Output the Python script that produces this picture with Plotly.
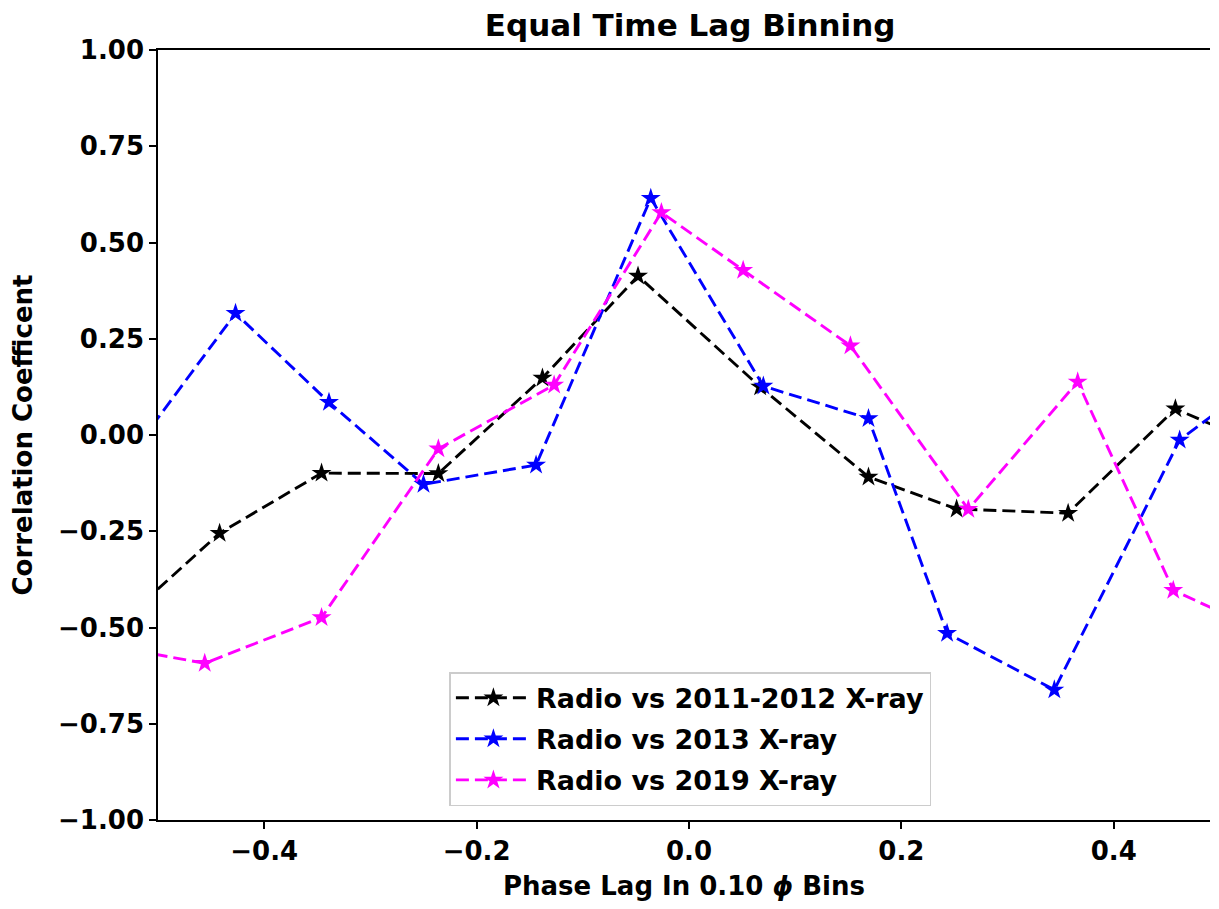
import plotly.graph_objects as go

# Data (points beyond the visible x-range keep the lines running to the edges)
x_2011 = [-0.54, -0.442, -0.346, -0.236, -0.138, -0.048, 0.067, 0.169, 0.252, 0.357, 0.458, 0.557]
y_2011 = [-0.50, -0.255, -0.099, -0.100, 0.148, 0.413, 0.125, -0.109, -0.192, -0.203, 0.068, -0.050]

x_2013 = [-0.527, -0.427, -0.339, -0.250, -0.144, -0.036, 0.070, 0.169, 0.243, 0.344, 0.462, 0.562]
y_2013 = [-0.056, 0.316, 0.085, -0.128, -0.078, 0.615, 0.127, 0.043, -0.515, -0.662, -0.013, 0.194]

x_2019 = [-0.556, -0.456, -0.346, -0.236, -0.127, -0.026, 0.051, 0.152, 0.263, 0.366, 0.456, 0.556]
y_2019 = [-0.543, -0.593, -0.474, -0.036, 0.130, 0.578, 0.428, 0.232, -0.193, 0.138, -0.403, -0.531]

series = [
    ("Radio vs 2011-2012 X-ray", x_2011, y_2011, "black"),
    ("Radio vs 2013 X-ray", x_2013, y_2013, "blue"),
    ("Radio vs 2019 X-ray", x_2019, y_2019, "magenta"),
]

x_ticks = [-0.4, -0.2, 0.0, 0.2, 0.4]
x_ticklabels = ["\u22120.4", "\u22120.2", "0.0", "0.2", "0.4"]
y_ticks = [-1.0, -0.75, -0.5, -0.25, 0.0, 0.25, 0.5, 0.75, 1.0]
y_ticklabels = ["\u22121.00", "\u22120.75", "\u22120.50", "\u22120.25", "0.00", "0.25", "0.50", "0.75", "1.00"]

FONT = "DejaVu Sans"

fig = go.Figure()
for i, (name, xs, ys, col) in enumerate(series):
    fig.add_trace(go.Scatter(
        x=xs, y=ys, name=f"<b>{name}</b>", mode="lines+markers",
        legendgroup=f"g{i}",
        line=dict(color=col, width=2.9, dash="13px,6px"),
        marker=dict(symbol="star", size=15, color=col, line=dict(width=0)),
        cliponaxis=True,
    ))

# visible plot area in the screenshot is ~1052 px wide (158..1210); keep 0.1 = 106.2 px
x_right = -0.5 + 1052 / 1062

fig.update_layout(
    width=1202, height=893,
    margin=dict(l=150, r=0, t=42, b=81),
    paper_bgcolor="white", plot_bgcolor="white",
    font=dict(family=FONT, color="black", size=22),
    title=dict(text="<b>Equal Time Lag Binning</b>", xref="container", x=0.5675, xanchor="center",
               yref="container", y=0.981, yanchor="middle", font=dict(size=31, family=FONT)),
    showlegend=True,
    legend=dict(x=0.277, y=0.018, xanchor="left", yanchor="bottom",
                bgcolor="rgba(255,255,255,0.8)", bordercolor="#cccccc", borderwidth=1.5,
                font=dict(size=27, family=FONT), itemwidth=75,
                traceorder="grouped", tracegroupgap=3),
)
fig.update_xaxes(
    range=[-0.5, x_right], tickvals=x_ticks, ticktext=[f"<b>{t}</b>" for t in x_ticklabels],
    showgrid=False, zeroline=False, showline=True, linecolor="black", linewidth=1.6,
    mirror=True, ticks="outside", ticklen=7, tickwidth=1.6, tickcolor="black",
    tickfont=dict(size=26, family=FONT),
    title=dict(text="<b>Phase Lag In 0.10 <i>\u03d5</i> Bins</b>", font=dict(size=26, family=FONT), standoff=14),
)
fig.update_yaxes(
    range=[-1.0, 1.0], tickvals=y_ticks, ticktext=[f"<b>{t}</b>" for t in y_ticklabels],
    showgrid=False, zeroline=False, showline=True, linecolor="black", linewidth=1.6,
    mirror=False, ticks="outside", ticklen=7, tickwidth=1.6, tickcolor="black",
    tickfont=dict(size=26, family=FONT),
    title=dict(text="<b>Correlation Coefficent</b>", font=dict(size=26, family=FONT), standoff=28),
)

fig.write_html("out.html")
